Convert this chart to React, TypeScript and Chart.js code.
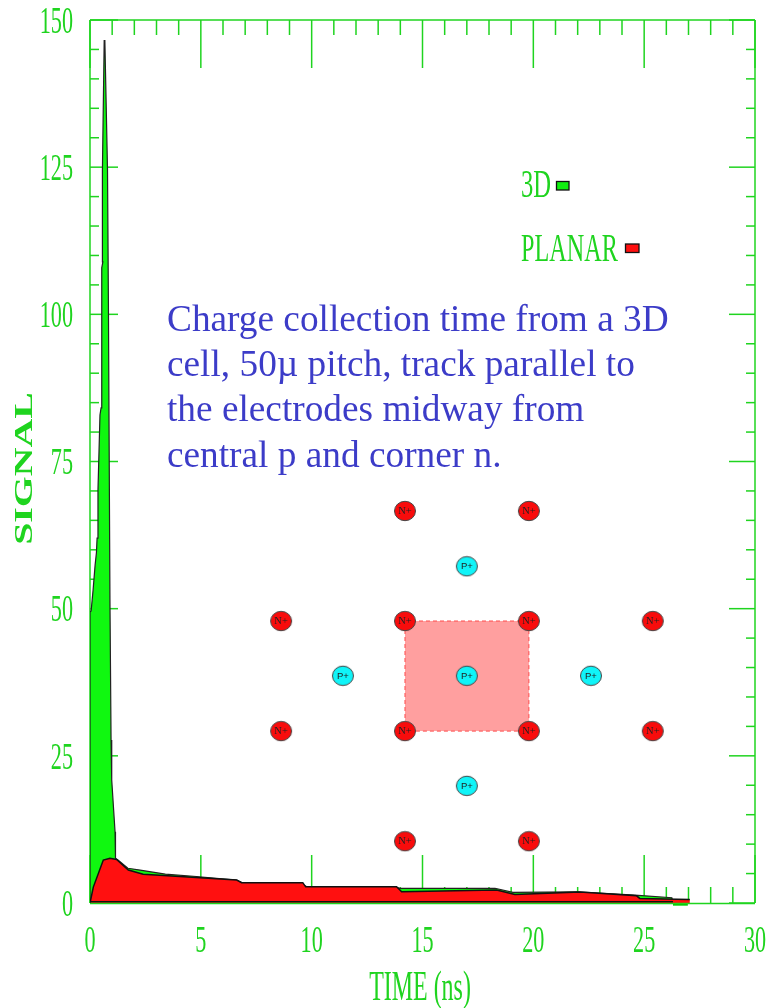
import React, { useEffect, useRef } from "react";
import { Chart, registerables } from "chart.js";

Chart.register(...registerables);

const timeTicks = [0, 5, 10, 15, 20, 25, 30];
const signalTicks = [0, 25, 50, 75, 100, 125, 150];
const timeMinor = [1, 2, 3, 4, 6, 7, 8, 9, 11, 12, 13, 14, 16, 17, 18, 19, 21, 22, 23, 24, 26, 27, 28, 29];
const signalMinor = [5, 10, 15, 20, 30, 35, 40, 45, 55, 60, 65, 70, 80, 85, 90, 95, 105, 110, 115, 120, 130, 135, 140, 145];

const time3D = [0, 0, 0.05, 0.14, 0.23, 0.29, 0.32, 0.36, 0.45, 0.5, 0.53, 0.58, 0.56, 0.64, 0.67, 0.79, 0.83, 0.9, 0.95, 0.98, 1.13, 1.15, 1.26, 1.71, 2.26, 3.4, 4.8, 6.6, 6.9, 9.5, 9.8, 13.8, 13.98, 18.27, 19.08, 21.97, 24.58, 26.25, 26.3];
const signal3D = [0, 49.4, 49.6, 53.2, 57.4, 59.5, 62, 70.2, 82.9, 84.1, 107.9, 108.9, 124.5, 146.5, 146.6, 124.5, 102.4, 51.5, 27.7, 20.9, 12.1, 7.6, 7.3, 5.9, 5.6, 4.9, 4.5, 3.9, 3.4, 3.4, 2.7, 2.7, 2.5, 2.5, 1.8, 1.9, 1.35, 0.9, 0];
const timeTail = [26.3, 26.97];
const signalTail = [-0.2, -0.2];

const timePlanar = [0, 0.15, 0.6, 0.9, 1.2, 1.73, 2.4, 6.62, 6.84, 9.6, 9.73, 13.83, 14.06, 18.34, 19.17, 22.1, 24.66, 24.8, 27.06];
const signalPlanar = [0, 2.7, 7.3, 7.6, 7.4, 5.6, 4.9, 3.9, 3.45, 3.45, 2.75, 2.75, 1.9, 2.2, 1.46, 1.87, 1.22, 0.78, 0.61];
const timeBase = [0, 26.3];
const signalBase = [0.2, 0.2];

const nX = [14.21, 19.8, 8.62, 14.21, 19.8, 25.39, 8.62, 14.21, 19.8, 25.39, 14.21, 19.8];
const nY = [66.6, 66.6, 47.9, 47.9, 47.9, 47.9, 29.2, 29.2, 29.2, 29.2, 10.5, 10.5];
const pX = [17, 11.41, 17, 22.6, 17];
const pY = [57.2, 38.6, 38.6, 38.6, 19.9];
const cellX = [14.21, 19.8, 19.8, 14.21, 14.21];
const cellY = [47.9, 47.9, 29.2, 29.2, 47.9];

const noteLines = [
  "Charge collection time from a 3D",
  "cell, 50\u00b5 pitch, track parallel to",
  "the electrodes midway from",
  "central p and corner n.",
];

const GREEN = "#1fd41f";
const SERIF = '"Liberation Serif"';
const textAdjust: Record<string, { sx: number; dx: number; dy?: number }> = {
  SIGNAL: { sx: 1.53, dx: -7 },
  "TIME (ns)": { sx: 0.57, dx: -2.5, dy: 2 },
  "3D": { sx: 0.6, dx: 0 },
  PLANAR: { sx: 0.59, dx: 0 },
};

function zip(xs: number[], ys: number[]) {
  return xs.map((x, i) => ({ x, y: ys[i] }));
}

function ellipseSprite(fill: string) {
  const c = document.createElement("canvas");
  c.width = 24;
  c.height = 22;
  const g = c.getContext("2d")!;
  g.fillStyle = fill;
  g.strokeStyle = "#444";
  g.lineWidth = 1;
  g.beginPath();
  g.ellipse(12, 11, 10.5, 9.7, 0, 0, Math.PI * 2);
  g.fill();
  g.stroke();
  return c;
}

const framePlugin = {
  id: "frame",
  beforeDatasetsDraw(chart: any) {
    const { ctx, chartArea: a, scales } = chart;
    const xs = scales.x;
    const ys = scales.y;
    ctx.save();
    ctx.strokeStyle = GREEN;
    ctx.lineWidth = 1.5;
    const seg = (x1: number, y1: number, x2: number, y2: number) => {
      ctx.beginPath();
      ctx.moveTo(x1, y1);
      ctx.lineTo(x2, y2);
      ctx.stroke();
    };
    seg(a.left, a.top, a.right, a.top);
    seg(a.left, a.top, a.left, a.bottom);
    seg(a.right, a.top, a.right, a.bottom);
    timeTicks.forEach((v) => {
      const p = xs.getPixelForValue(v);
      seg(p, a.top, p, a.top + 48);
      seg(p, a.bottom, p, a.bottom - 48);
    });
    timeMinor.forEach((v) => {
      const p = xs.getPixelForValue(v);
      seg(p, a.top, p, a.top + 15);
      seg(p, a.bottom, p, a.bottom - 16);
    });
    signalTicks.forEach((v) => {
      const p = ys.getPixelForValue(v);
      seg(a.left, p, a.left + 28, p);
      seg(a.right, p, a.right - 26, p);
    });
    signalMinor.forEach((v) => {
      const p = ys.getPixelForValue(v);
      seg(a.left, p, a.left + 9, p);
      seg(a.right, p, a.right - 9, p);
    });
    ctx.restore();
  },
};

const notesPlugin = {
  id: "notes",
  afterDatasetsDraw(chart: any) {
    const { ctx, scales, chartArea: a } = chart;
    const xs = scales.x;
    const ys = scales.y;
    ctx.save();
    ctx.strokeStyle = GREEN;
    ctx.lineWidth = 1.5;
    ctx.beginPath();
    ctx.moveTo(a.left, a.bottom + 0.5);
    ctx.lineTo(a.right, a.bottom + 0.5);
    ctx.stroke();

    ctx.textBaseline = "middle";
    ctx.textAlign = "center";
    ctx.fillStyle = "#222";
    ctx.font = `10.5px ${SERIF}`;
    nX.forEach((x, i) => ctx.fillText("N+", xs.getPixelForValue(x), ys.getPixelForValue(nY[i]) + 0.5));
    ctx.font = `9.5px "Liberation Sans"`;
    pX.forEach((x, i) => ctx.fillText("P+", xs.getPixelForValue(x), ys.getPixelForValue(pY[i]) + 0.5));

    ctx.textAlign = "left";
    ctx.textBaseline = "alphabetic";
    ctx.fillStyle = "#3c3cc8";
    ctx.font = `37.3px ${SERIF}`;
    noteLines.forEach((t, i) => ctx.fillText(t, 167, 331 + i * 45.2));

    ctx.fillStyle = GREEN;
    ctx.font = `41px ${SERIF}`;
    ctx.fillText(chart.data.datasets[1].label, 521, 197);
    ctx.fillText(chart.data.datasets[0].label, 521, 261);
    ctx.lineWidth = 1.3;
    ctx.strokeStyle = "#111";
    ctx.fillStyle = "#10f010";
    ctx.fillRect(556.5, 181.5, 12.5, 8.5);
    ctx.strokeRect(556.5, 181.5, 12.5, 8.5);
    ctx.fillStyle = "#ff1010";
    ctx.fillRect(625.5, 244, 13.5, 8.5);
    ctx.strokeRect(625.5, 244, 13.5, 8.5);
    ctx.restore();
  },
};

export default function App() {
  const ref = useRef<HTMLCanvasElement>(null);
  useEffect(() => {
    document.body.style.margin = "0";
    const canvas = ref.current!;
    const ctx: any = canvas.getContext("2d")!;
    const rawFill = ctx.fillText.bind(ctx);
    ctx.fillText = (t: string, x: number, y: number, m?: number) => {
      const numeric = /^\d+$/.test(t);
      const adj = textAdjust[t] ?? (numeric ? { sx: 0.6, dx: 0, dy: ctx.textAlign === "right" ? 3 : 0 } : null);
      if (!adj) return rawFill(t, x, y, m);
      ctx.save();
      ctx.translate(x + adj.dx, y + (adj.dy ?? 0));
      ctx.scale(adj.sx, 1);
      rawFill(t, 0, 0);
      ctx.restore();
    };
    const chart = new Chart(canvas, {
      type: "scatter",
      data: {
        datasets: [
          {
            label: "PLANAR",
            data: zip(timePlanar, signalPlanar),
            showLine: true,
            fill: "origin",
            backgroundColor: "#ff1010",
            borderColor: "#111",
            borderWidth: 1.5,
            pointRadius: 0,
            tension: 0,
            order: 3,
          },
          {
            label: "3D",
            data: zip(time3D, signal3D),
            showLine: true,
            fill: "origin",
            backgroundColor: "#10f810",
            borderColor: "#222",
            borderWidth: 1.2,
            pointRadius: 0,
            tension: 0,
            order: 4,
          },
          {
            label: "Cell",
            data: zip(cellX, cellY),
            showLine: true,
            fill: "shape",
            backgroundColor: "#ff9f9f",
            borderColor: "#ff4a4a",
            borderWidth: 1,
            borderDash: [4, 3],
            pointRadius: 0,
            tension: 0,
            order: 5,
          },
          {
            label: "N+",
            data: zip(nX, nY),
            pointStyle: ellipseSprite("#f80c0c"),
            order: 2,
          },
          {
            label: "P+",
            data: zip(pX, pY),
            pointStyle: ellipseSprite("#10f4f8"),
            order: 1,
          },
          {
            label: "3D tail",
            data: zip(timeTail, signalTail),
            showLine: true,
            fill: false,
            borderColor: "#00c800",
            borderWidth: 3,
            pointRadius: 0,
            tension: 0,
            clip: false,
            order: 6,
          },
          {
            label: "Baseline",
            data: zip(timeBase, signalBase),
            showLine: true,
            fill: false,
            borderColor: "#111",
            borderWidth: 1.5,
            pointRadius: 0,
            tension: 0,
            order: 0,
          },
        ],
      } as any,
      options: {
        animation: false,
        responsive: false,
        layout: { padding: { top: 20, right: 23, left: 0, bottom: 0 } },
        plugins: { legend: { display: false }, tooltip: { enabled: false } },
        scales: {
          x: {
            type: "linear",
            min: 0,
            max: 30,
            grid: { display: false, drawTicks: false },
            border: { display: false },
            afterFit: (s: any) => { s.height = 105; s.paddingLeft = 0; s.paddingRight = 0; },
            ticks: {
              stepSize: 5,
              autoSkip: false,
              maxRotation: 0,
              padding: 21,
              color: GREEN,
              font: { family: SERIF, size: 37, lineHeight: 1 },
            },
            title: {
              display: true,
              text: "TIME (ns)",
              color: GREEN,
              padding: 0,
              font: { family: SERIF, size: 42, lineHeight: 1 },
            },
          },
          y: {
            type: "linear",
            min: 0,
            max: 150,
            grid: { display: false, drawTicks: false },
            border: { display: false },
            afterFit: (s: any) => { s.width = 90; s.paddingTop = 0; s.paddingBottom = 0; },
            ticks: {
              stepSize: 25,
              autoSkip: false,
              padding: 17,
              color: GREEN,
              font: { family: SERIF, size: 37, lineHeight: 1 },
            },
            title: {
              display: true,
              text: "SIGNAL",
              color: GREEN,
              padding: { top: 10, bottom: 0 },
              font: { family: SERIF, size: 26, weight: "bold", lineHeight: 1.2 },
            },
          },
        },
      } as any,
      plugins: [framePlugin, notesPlugin],
    });
    return () => {
      chart.destroy();
      delete ctx.fillText;
    };
  }, []);
  return <canvas ref={ref} width={778} height={1008} style={{ display: "block" }} />;
}
